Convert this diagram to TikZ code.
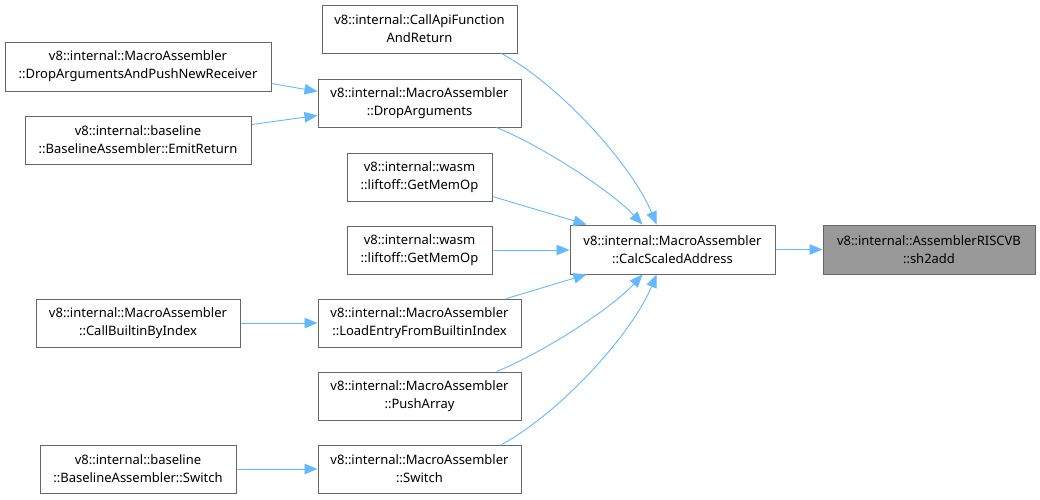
\documentclass[tikz,border=0pt]{standalone}
\usepackage{fontspec}
\setmainfont{Noto Sans}
\usetikzlibrary{arrows.meta,calc}
\definecolor{boxgray}{HTML}{666666}
\definecolor{edgeblue}{HTML}{63B8FF}
\definecolor{hlgray}{HTML}{999999}
\begin{document}
\begin{tikzpicture}[x=1pt,y=-1pt,
  box/.style={draw=boxgray, line width=1pt, fill=white, align=center, inner sep=0pt,
    minimum height=48, font=\fontsize{13}{18}\selectfont},
  edge/.style={draw=edgeblue, line width=0.9pt, -{Triangle[length=13,width=10.5]}}]
\useasboundingbox (0,0) rectangle (1040,499);
\node[box, minimum width=195] (api) at (419.5,29) {v8::internal::CallApiFunction\\AndReturn};
\node[box, minimum width=266, minimum height=49] (dapnr) at (138,66.5) {v8::internal::MacroAssembler\\::DropArgumentsAndPushNewReceiver};
\node[box, minimum width=203] (da) at (419.5,103) {v8::internal::MacroAssembler\\::DropArguments};
\node[box, minimum width=226] (er) at (138,140) {v8::internal::baseline\\::BaselineAssembler::EmitReturn};
\node[box, minimum width=145] (gma) at (419.5,177) {v8::internal::wasm\\::liftoff::GetMemOp};
\node[box, minimum width=145] (gmb) at (419.5,250) {v8::internal::wasm\\::liftoff::GetMemOp};
\node[box, minimum width=205, minimum height=49] (calc) at (672.5,249.5) {v8::internal::MacroAssembler\\::CalcScaledAddress};
\node[box, minimum width=212, minimum height=49, fill=hlgray] (sh) at (929,249.5) {v8::internal::AssemblerRISCVB\\::sh2add};
\node[box, minimum width=204] (cbi) at (138,323) {v8::internal::MacroAssembler\\::CallBuiltinByIndex};
\node[box, minimum width=203] (le) at (419.5,323) {v8::internal::MacroAssembler\\::LoadEntryFromBuiltinIndex};
\node[box, minimum width=203] (pa) at (419.5,396) {v8::internal::MacroAssembler\\::PushArray};
\node[box, minimum width=196] (bs) at (138,469) {v8::internal::baseline\\::BaselineAssembler::Switch};
\node[box, minimum width=203] (ms) at (419.5,469) {v8::internal::MacroAssembler\\::Switch};

\draw[edge] (calc.east) -- (sh.west);
\draw[edge] (gmb.east) -- (gmb.east -| calc.west);
\draw[edge] (cbi.east) -- (cbi.east -| le.west);
\draw[edge] (bs.east) -- (bs.east -| ms.west);
\draw[edge] ($(dapnr.north east)+(0,42)$) -- ($(da.north west)+(0,13)$);
\draw[edge] ($(er.north east)+(0,9)$) -- ($(da.north west)+(0,37)$);
\draw[edge] ($(api.south west)+(180,0)$) .. controls (560,85) and (632,165) .. ($(calc.north west)+(87,0)$);
\draw[edge] ($(da.south west)+(179,0)$) .. controls (540,145) and (610,190) .. ($(calc.north west)+(73,0)$);
\draw[edge] ($(gma.north east)+(0,44)$) -- ($(calc.north west)+(17,0)$);
\draw[edge] ($(le.north west)+(189,0)$) -- ($(calc.south west)+(17,0)$);
\draw[edge] ($(pa.north west)+(179,0)$) .. controls (540,354) and (610,310) .. ($(calc.south west)+(73,0)$);
\draw[edge] ($(ms.north west)+(184,0)$) .. controls (560,413) and (632,334) .. ($(calc.south west)+(87,0)$);
\end{tikzpicture}
\end{document}
